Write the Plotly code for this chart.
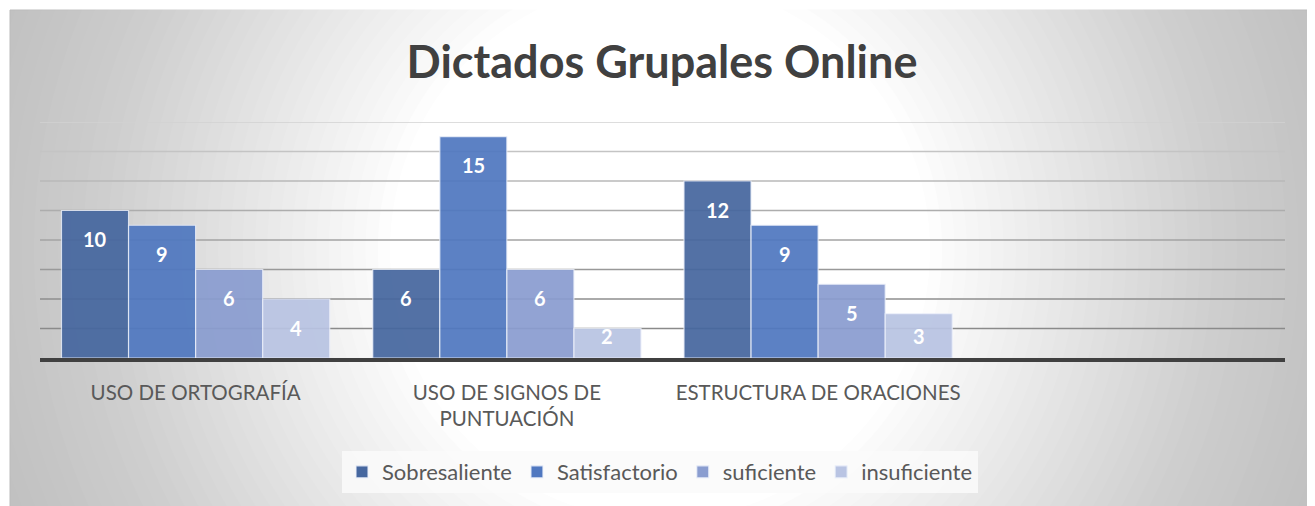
import plotly.graph_objects as go

# ---- data ----
categories = ["USO DE ORTOGRAFÍA", "USO DE SIGNOS DE<br>PUNTUACIÓN", "ESTRUCTURA DE ORACIONES", " "]
series_names = ["Sobresaliente", "Satisfactorio", "suficiente", "insuficiente"]
sobresaliente = [10, 6, 12]
satisfactorio = [9, 15, 9]
suficiente = [6, 6, 5]
insuficiente = [4, 2, 3]
y_ticks = [0, 2, 4, 6, 8, 10, 12, 14, 16]

# ---- style ----
colors = ["#46679f", "#5078c0", "#8a9dd0", "#b9c4e3"]
FONT = "Lato"
W, H = 1315, 506
OFF = 8  # page body margin
L, R, T = 40 - OFF, 1315 - 1285 + OFF, 122 - OFF
B = H - (358 - OFF)
BARGAP = 0.138
plot_w = W - L - R
plot_h = H - T - B

series = [sobresaliente, satisfactorio, suficiente, insuficiente]

fig = go.Figure()
for name, vals, col in zip(series_names, series, colors):
    fig.add_trace(go.Bar(
        x=categories[:len(vals)], y=vals, name=name,
        marker=dict(color=col, opacity=0.93,
                    line=dict(color="rgba(235,240,250,0.85)", width=1.2)),
        hoverinfo="x+y+name",
    ))

def sx(px):  # screen px -> pixel offset from plot left
    return px - OFF - L

def sy(py):  # screen px -> pixel offset (upwards) from plot bottom
    return (H - B) - (py - OFF)

shapes = []
cx = sx(660) / plot_w
cy = sy(250) / plot_h
shapes.append(dict(type="rect", xref="paper", yref="paper", layer="below",
                   xsizemode="pixel", ysizemode="pixel", xanchor=0, yanchor=0,
                   x0=sx(10), x1=sx(1313), y0=sy(520), y1=sy(10),
                   fillcolor="#c0c0c0", line=dict(color="#bababa", width=1)))
N = 36
r_out, r_in = 700, 270
for i in range(1, N + 1):
    r = r_out - (r_out - r_in) * (i - 1) / (N - 1)
    a = 1.0 / (N - i + 1)
    shapes.append(dict(type="circle", xref="paper", yref="paper", layer="below",
                       xsizemode="pixel", ysizemode="pixel", xanchor=cx, yanchor=cy,
                       x0=-r, x1=r, y0=-r, y1=r,
                       fillcolor="white", opacity=min(a, 1.0), line=dict(width=0)))
grid_cols = ["#8a8a8a", "#8e8e8e", "#999999", "#a3a3a3", "#adadad", "#b8b8b8", "#c4c4c4", "#d2d2d2"]
for yv, gc in zip(y_ticks[1:], grid_cols):
    shapes.append(dict(type="line", xref="paper", yref="y", layer="below",
                       x0=0, x1=1, y0=yv, y1=yv, line=dict(color=gc, width=1.7)))

annotations = []
bw = (1 - BARGAP) / len(series)
px_per_unit = plot_h / (y_ticks[-1] - y_ticks[0])
for i, vals in enumerate(series):
    for j, v in enumerate(vals):
        ly = max(v - 28.5 / px_per_unit, 22.5 / px_per_unit)
        annotations.append(dict(
            x=j + (i - (len(series) - 1) / 2) * bw, y=ly, xref="x", yref="y",
            text=f"<b>{v}</b>", showarrow=False, yanchor="middle",
            font=dict(family=FONT, size=20, color="white")))

fig.update_layout(
    width=W, height=H,
    margin=dict(l=L, r=R, t=T, b=B),
    paper_bgcolor="white", plot_bgcolor="rgba(0,0,0,0)",
    barmode="group", bargap=BARGAP, bargroupgap=0,
    title=dict(text="<b>Dictados Grupales Online</b>", x=(662 - OFF) / W, xanchor="center",
               y=1 - (62 - OFF) / H, yanchor="middle", yref="container",
               font=dict(family=FONT, size=45, color="#404040")),
    font=dict(family=FONT, color="#595959"),
    xaxis=dict(type="category", categoryorder="array", categoryarray=categories,
               range=[-0.5, len(categories) - 0.5], showgrid=False, zeroline=False,
               showline=True, linecolor="#404040", linewidth=4, ticks="",
               ticklabelstandoff=13, tickfont=dict(family=FONT, size=20.5, color="#595959")),
    yaxis=dict(range=[y_ticks[0], y_ticks[-1]], showgrid=False, zeroline=False,
               showticklabels=False, tickvals=y_ticks, fixedrange=True),
    legend=dict(orientation="h", x=(660 - OFF - L) / plot_w, xanchor="center",
                y=-(472 - 358) / plot_h, yanchor="middle",
                bgcolor="rgba(250,250,250,0.85)", tracegroupgap=0,
                font=dict(family=FONT, size=22, color="#595959"), itemclick=False),
    shapes=shapes, annotations=annotations,
)

fig.write_html("out.html")
